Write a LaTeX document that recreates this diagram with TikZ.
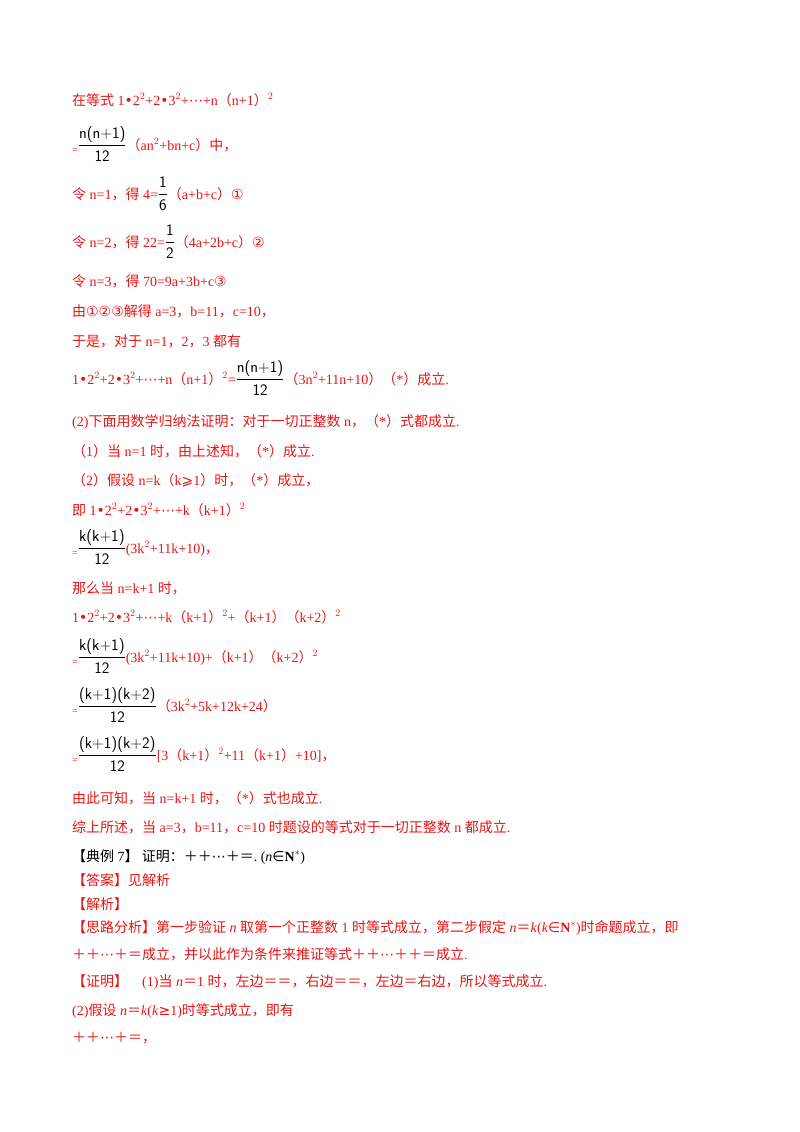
\documentclass[tikz,border=0pt]{standalone}
\usepackage{fontspec}
\setmainfont{Liberation Serif}
\newfontfamily\zhf{Noto Sans CJK SC}
\newfontfamily\symf{DejaVu Sans}
\newcommand\zh[1]{{\zhf #1}}
\newcommand\ci[1]{{\symf #1}}
\newcommand\fr[2]{\textcolor{black}{\fontsize{16}{18}\selectfont$\displaystyle\frac{\textsf{#1}}{\textsf{#2}}$}}
\newcommand\eqs{\raisebox{-0.6ex}{\fontsize{10}{12}\selectfont =}}
\definecolor{rd}{RGB}{232,20,20}
\begin{document}
\begin{tikzpicture}[x=1pt,y=1pt,
  ln/.style={anchor=base west,inner sep=0pt,text=rd,font=\fontsize{14}{16}\selectfont},
  bk/.style={ln,text=black}]
\useasboundingbox (0,0) rectangle (800,-1132);
\node[ln] (l1) at (72,-105) {\zh{在等式} 1\ci{•}2$^2$+2\ci{•}3$^2$+\ci{⋯}+n\zh{（}n+1\zh{）}$^{2}$};
\node[ln] (l2) at (72,-150) {\eqs\fr{n(n+1)}{12}\zh{（}an$^2$+bn+c\zh{）中，}};
\node[ln] (l3) at (72,-199) {\zh{令} n=1\zh{，得} 4=\fr{1}{6}\zh{（}a+b+c\zh{）}\ci{①}};
\node[ln] (l4) at (72,-247) {\zh{令} n=2\zh{，得} 22=\fr{1}{2}\zh{（}4a+2b+c\zh{）}\ci{②}};
\node[ln] (l5) at (72,-286) {\zh{令} n=3\zh{，得} 70=9a+3b+c\ci{③}};
\node[ln] (l6) at (72,-316) {\zh{由}\ci{①②③}\zh{解得} a=3\zh{，}b=11\zh{，}c=10\zh{，}};
\node[ln] (l7) at (72,-346) {\zh{于是，对于} n=1\zh{，}2\zh{，}3 \zh{都有}};
\node[ln] (l8) at (72,-384) {1\ci{•}2$^2$+2\ci{•}3$^2$+\ci{⋯}+n\zh{（}n+1\zh{）}$^2$=\fr{n(n+1)}{12}\zh{（}3n$^2$+11n+10\zh{）（}*\zh{）成立}.};
\node[ln] (l9) at (72,-426) {(2)\zh{下面用数学归纳法证明：对于一切正整数} n\zh{，（}*\zh{）式都成立}.};
\node[ln] (l10) at (72,-456) {\zh{（}1\zh{）当} n=1 \zh{时，由上述知，（}*\zh{）成立}.};
\node[ln] (l11) at (72,-485) {\zh{（}2\zh{）假设} n=k\zh{（}k\ci{⩾}1\zh{）时，（}*\zh{）成立，}};
\node[ln] (l12) at (72,-515) {\zh{即} 1\ci{•}2$^2$+2\ci{•}3$^2$+\ci{⋯}+k\zh{（}k+1\zh{）}$^{2}$};
\node[ln] (l13) at (72,-553) {\eqs\fr{k(k+1)}{12}(3k$^2$+11k+10)\zh{，}};
\node[ln] (l14) at (72,-593) {\zh{那么当} n=k+1 \zh{时，}};
\node[ln] (l15) at (72,-622) {1\ci{•}2$^2$+2\ci{•}3$^2$+\ci{⋯}+k\zh{（}k+1\zh{）}$^2$+\zh{（}k+1\zh{）（}k+2\zh{）}$^2$};
\node[ln] (l16) at (72,-662) {\eqs\fr{k(k+1)}{12}(3k$^2$+11k+10)+\zh{（}k+1\zh{）（}k+2\zh{）}$^2$};
\node[ln] (l17) at (72,-711) {\eqs\fr{(k+1)(k+2)}{12}\zh{（}3k$^2$+5k+12k+24\zh{）}};
\node[ln] (l18) at (72,-760) {\eqs\fr{(k+1)(k+2)}{12}[3\zh{（}k+1\zh{）}$^2$+11\zh{（}k+1\zh{）}+10]\zh{，}};
\node[ln] (l19) at (72,-803) {\zh{由此可知，当} n=k+1 \zh{时，（}*\zh{）式也成立}.};
\node[ln] (l20) at (72,-832) {\zh{综上所述，当} a=3\zh{，}b=11\zh{，}c=10 \zh{时题设的等式对于一切正整数} n \zh{都成立}.};
\node[bk] (l21) at (72,-861) {\zh{【典例} 7\zh{】\ 证明：＋＋}\ci{⋯}\zh{＋＝}.\ (\textit{n}\ci{∈}\textbf{N}$^*$)};
\node[ln] (l22) at (72,-885) {\zh{【答案】见解析}};
\node[ln] (l23) at (72,-909) {\zh{【解析】}};
\node[ln] (l24) at (72,-932) {\zh{【思路分析】第一步验证} \textit{n} \zh{取第一个正整数} 1 \zh{时等式成立，第二步假定} \textit{n}\zh{＝}\textit{k}(\textit{k}\ci{∈}\textbf{N}$^*$)\zh{时命题成立，即}};
\node[ln] (l25) at (72,-959) {\zh{＋＋}\ci{⋯}\zh{＋＝成立，并以此作为条件来推证等式＋＋}\ci{⋯}\zh{＋＋＝成立}.};
\node[ln] (l26) at (72,-986) {\zh{【证明】}\quad (1)\zh{当} \textit{n}\zh{＝}1 \zh{时，左边＝＝，右边＝＝，左边＝右边，所以等式成立}.};
\node[ln] (l27) at (72,-1015) {(2)\zh{假设} \textit{n}\zh{＝}\textit{k}(\textit{k}\ci{≥}1)\zh{时等式成立，即有}};
\node[ln] (l28) at (72,-1042) {\zh{＋＋}\ci{⋯}\zh{＋＝，}};
\end{tikzpicture}
\end{document}
